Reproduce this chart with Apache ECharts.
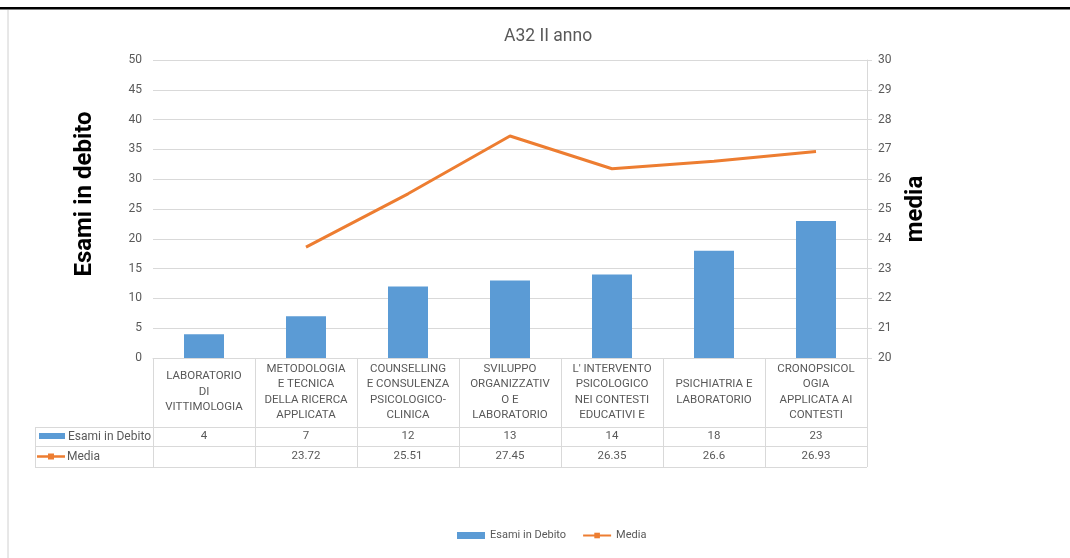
<!DOCTYPE html>
<html>
<head>
<meta charset="utf-8">
<script src="https://cdn.jsdelivr.net/npm/echarts@6/dist/echarts.min.js"></script>
<style>
html,body{margin:0;padding:0;background:#fff;}
#c{width:1070px;height:558px;}
</style>
</head>
<body>
<div id="c"></div>
<script>
var categories = [
  'LABORATORIO\nDI\nVITTIMOLOGIA',
  'METODOLOGIA\nE TECNICA\nDELLA RICERCA\nAPPLICATA',
  'COUNSELLING\nE CONSULENZA\nPSICOLOGICO-\nCLINICA',
  'SVILUPPO\nORGANIZZATIV\nO E\nLABORATORIO',
  "L' INTERVENTO\nPSICOLOGICO\nNEI CONTESTI\nEDUCATIVI E",
  'PSICHIATRIA E\nLABORATORIO',
  'CRONOPSICOL\nOGIA\nAPPLICATA AI\nCONTESTI'
];
var esamiInDebito = [4, 7, 12, 13, 14, 18, 23];
var media = [null, 23.72, 25.51, 27.45, 26.35, 26.6, 26.93];
var leftTicks = {min: 0, max: 50, interval: 5};
var rightTicks = {min: 20, max: 30, interval: 1};

var BLUE = '#5B9BD5', ORANGE = '#ED7D31', GRID = '#D9D9D9', TXT = '#595959';
var FONT = 'Roboto, "Liberation Sans", sans-serif';

var gridL = 153, gridR = 867, gridT = 60, gridB = 358;
var rowTop1 = 427, rowTop2 = 446, rowBottom = 467, tableLeft = 35;

var chart = echarts.init(document.getElementById('c'), null, {renderer: 'canvas'});

var graphics = [
  {type: 'rect', shape: {x: 0, y: 7, width: 1070, height: 2.6}, style: {fill: '#000'}, silent: true},
  {type: 'line', shape: {x1: 8, y1: 10, x2: 8, y2: 558}, style: {stroke: '#D0D0D0', lineWidth: 1}, silent: true},
  {type: 'line', shape: {x1: tableLeft, y1: rowTop1 + 0.5, x2: gridR, y2: rowTop1 + 0.5}, style: {stroke: GRID, lineWidth: 1}, silent: true},
  {type: 'line', shape: {x1: tableLeft, y1: rowTop2 + 0.5, x2: gridR, y2: rowTop2 + 0.5}, style: {stroke: GRID, lineWidth: 1}, silent: true},
  {type: 'line', shape: {x1: tableLeft, y1: rowBottom + 0.5, x2: gridR, y2: rowBottom + 0.5}, style: {stroke: GRID, lineWidth: 1}, silent: true},
  {type: 'line', shape: {x1: tableLeft + 0.5, y1: rowTop1, x2: tableLeft + 0.5, y2: rowBottom}, style: {stroke: GRID, lineWidth: 1}, silent: true},
  {type: 'line', shape: {x1: gridL + 0.5, y1: rowTop1, x2: gridL + 0.5, y2: rowBottom}, style: {stroke: GRID, lineWidth: 1}, silent: true},
  // table legend keys
  {type: 'rect', shape: {x: 39, y: 433, width: 26, height: 6}, style: {fill: BLUE}, silent: true},
  {type: 'text', x: 68, y: 436.5, style: {text: 'Esami in Debito', fill: TXT, font: '12px ' + FONT, verticalAlign: 'middle'}, silent: true},
  {type: 'line', shape: {x1: 37, y1: 456.5, x2: 65, y2: 456.5}, style: {stroke: ORANGE, lineWidth: 2.5}, silent: true},
  {type: 'rect', shape: {x: 48, y: 453.5, width: 6, height: 6}, style: {fill: ORANGE}, silent: true},
  {type: 'text', x: 67, y: 456.5, style: {text: 'Media', fill: TXT, font: '12px ' + FONT, verticalAlign: 'middle'}, silent: true}
];

var option = {
  backgroundColor: '#fff',
  animation: false,
  textStyle: {fontFamily: FONT},
  title: {
    text: 'A32 II anno', left: 499, top: 23,
    textStyle: {fontSize: 17.5, fontWeight: 'normal', color: TXT, fontFamily: FONT}
  },
  legend: {
    bottom: 12, left: 452, itemGap: 16, itemWidth: 28, itemHeight: 7,
    textStyle: {color: TXT, fontSize: 11, fontFamily: FONT},
    data: [
      {name: 'Esami in Debito', icon: 'rect'},
      {name: 'Media'}
    ]
  },
  grid: {left: gridL, right: 1070 - gridR, top: gridT, bottom: 558 - gridB, containLabel: false},
  xAxis: [
    {
      type: 'category', data: categories, position: 'bottom',
      axisLine: {show: true, lineStyle: {color: GRID}},
      axisTick: {show: true, length: rowBottom - gridB, alignWithLabel: false, interval: 0, lineStyle: {color: GRID}},
      axisLabel: {interval: 0, margin: 34, verticalAlign: 'middle', lineHeight: 15.5, fontSize: 11.5, color: TXT, fontFamily: FONT},
      splitLine: {show: false}
    },
    {
      type: 'category', data: esamiInDebito.map(function (v) { return v == null ? '' : String(v); }), position: 'bottom',
      axisLine: {show: false}, axisTick: {show: false}, splitLine: {show: false},
      axisLabel: {interval: 0, margin: 78, verticalAlign: 'middle', fontSize: 11.5, color: TXT, fontFamily: FONT}
    },
    {
      type: 'category', data: media.map(function (v) { return v == null ? '' : String(v); }), position: 'bottom',
      axisLine: {show: false}, axisTick: {show: false}, splitLine: {show: false},
      axisLabel: {interval: 0, margin: 98, verticalAlign: 'middle', fontSize: 11.5, color: TXT, fontFamily: FONT}
    }
  ],
  yAxis: [
    {
      type: 'value', min: leftTicks.min, max: leftTicks.max, interval: leftTicks.interval,
      name: 'Esami in debito', nameLocation: 'middle', nameGap: 56,
      nameTextStyle: {fontSize: 24, fontWeight: 'bold', color: '#000', fontFamily: FONT, padding: [0, 0, 0, 30]},
      axisLine: {show: false}, axisTick: {show: false},
      axisLabel: {fontSize: 12, color: TXT, margin: 11, fontFamily: FONT},
      splitLine: {show: true, lineStyle: {color: GRID}}
    },
    {
      type: 'value', min: rightTicks.min, max: rightTicks.max, interval: rightTicks.interval,
      name: 'media', nameLocation: 'middle', nameGap: 37, position: 'right',
      nameTextStyle: {fontSize: 24, fontWeight: 'bold', color: '#000', fontFamily: FONT},
      axisLine: {show: true, lineStyle: {color: GRID}},
      axisTick: {show: true, length: 5, lineStyle: {color: GRID}},
      axisLabel: {fontSize: 12, color: TXT, margin: 11, fontFamily: FONT},
      splitLine: {show: false}
    }
  ],
  series: [
    {
      name: 'Esami in Debito', type: 'bar', data: esamiInDebito, xAxisIndex: 0, yAxisIndex: 0,
      barWidth: 40, itemStyle: {color: BLUE}
    },
    {
      name: 'Media', type: 'line', data: media, xAxisIndex: 0, yAxisIndex: 1,
      symbol: 'rect', symbolSize: 8, showSymbol: false, connectNulls: false,
      lineStyle: {color: ORANGE, width: 3}, itemStyle: {color: ORANGE}
    }
  ],
  graphic: graphics
};
chart.setOption(option);
</script>
</body>
</html>
